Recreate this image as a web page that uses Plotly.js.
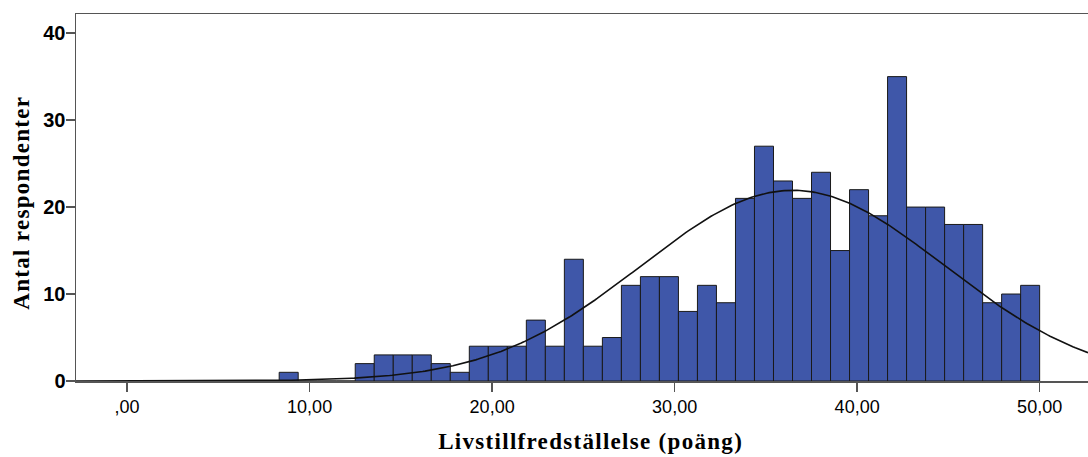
<!DOCTYPE html>
<html>
<head>
<meta charset="utf-8">
<script src="https://cdn.plot.ly/plotly-3.0.1.min.js"></script>
<style>
  html, body { margin: 0; padding: 0; background: #ffffff; }
  #chart { width: 1088px; height: 457px; }
  #chart .annotation-text { letter-spacing: 1.3px; }
</style>
</head>
<body>
<div id="chart"></div>
<script>
// Histogram of life-satisfaction scores (40 equal-width bins from 8,33 to 50,00)
const binStart = 8.333;
const binWidth = 1.0417;
const counts = [
  1, 0, 0, 0, 2, 3, 3, 3, 2, 1,
  4, 4, 4, 7, 4, 14, 4, 5, 11, 12,
  12, 8, 11, 9, 21, 27, 23, 21, 24, 15,
  22, 19, 35, 20, 20, 18, 18, 9, 10, 11
];
const xTickVals = [0, 10, 20, 30, 40, 50];
const xTickText = [',00', '10,00', '20,00', '30,00', '40,00', '50,00'];
const yTickVals = [0, 10, 20, 30, 40];
const xTitle = 'Livstillfredställelse (poäng)';
const yTitle = 'Antal respondenter';

// bin centres
const centres = counts.map((_, i) => binStart + binWidth * (i + 0.5));

// mean / standard deviation of the binned scores, used for the normal curve
const n = counts.reduce((a, b) => a + b, 0);
const mean = centres.reduce((s, c, i) => s + c * counts[i], 0) / n;
const sd = Math.sqrt(centres.reduce((s, c, i) => s + counts[i] * (c - mean) ** 2, 0) / (n - 1));

const xRange = [-2.8, 52.65];
const curveX = [];
const curveY = [];
for (let k = 0; k <= 400; k++) {
  const x = xRange[0] + (xRange[1] - xRange[0]) * k / 400;
  curveX.push(x);
  curveY.push(n * binWidth / (sd * Math.sqrt(2 * Math.PI)) *
              Math.exp(-0.5 * ((x - mean) / sd) ** 2));
}

const bars = {
  type: 'bar',
  x: centres,
  y: counts,
  width: binWidth,
  marker: { color: '#3f57a9', line: { color: '#1a1a1a', width: 1 } },
  hoverinfo: 'x+y'
};

const curve = {
  type: 'scatter',
  mode: 'lines',
  x: curveX,
  y: curveY,
  line: { color: '#111111', width: 1.6 },
  hoverinfo: 'skip'
};

const titleFont = { family: 'Liberation Serif, Times New Roman, serif', size: 23, color: '#000000', weight: 'bold' };

const layout = {
  width: 1088,
  height: 457,
  margin: { l: 76, r: 0, t: 14, b: 76 },
  paper_bgcolor: '#ffffff',
  plot_bgcolor: '#ffffff',
  showlegend: false,
  bargap: 0,
  xaxis: {
    range: xRange,
    tickvals: xTickVals,
    ticktext: xTickText,
    ticks: 'outside',
    ticklen: 9,
    tickwidth: 1.5,
    tickcolor: '#555555',
    showgrid: false,
    zeroline: false,
    showline: true,
    linecolor: '#555555',
    linewidth: 1.5,
    mirror: true,
    tickfont: { family: 'Liberation Sans, Arial, sans-serif', size: 18, color: '#000000' }
  },
  yaxis: {
    range: [0, 42.2],
    tickvals: yTickVals,
    ticks: 'outside',
    ticklen: 9,
    tickwidth: 1.5,
    tickcolor: '#555555',
    ticklabelstandoff: -4,
    showgrid: false,
    zeroline: false,
    showline: true,
    linecolor: '#555555',
    linewidth: 1.5,
    tickfont: { family: 'Liberation Sans, Arial, sans-serif', size: 20, color: '#000000', weight: 'bold' }
  },
  annotations: [
    {
      text: xTitle, xref: 'paper', yref: 'paper',
      x: (590 - 76) / 1012, y: -(442 - 381) / 367,
      xanchor: 'center', yanchor: 'middle', showarrow: false, font: titleFont
    },
    {
      text: yTitle, xref: 'paper', yref: 'paper', textangle: -90,
      x: -(76 - 22) / 1012, y: (381 - 203) / 367,
      xanchor: 'center', yanchor: 'middle', showarrow: false, font: titleFont
    }
  ]
};

Plotly.newPlot('chart', [bars, curve], layout, { displayModeBar: false, staticPlot: true });
</script>
</body>
</html>
